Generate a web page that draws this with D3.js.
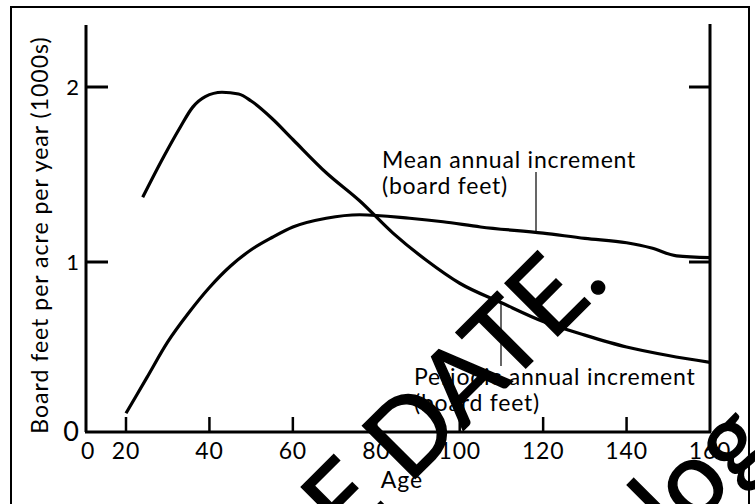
<!DOCTYPE html>
<html>
<head>
<meta charset="utf-8">
<script src="https://cdn.jsdelivr.net/npm/d3@7"></script>
<style>
  body { margin: 0; background: #fff; }
  svg { display: block; font-family: Lato, "Noto Sans", sans-serif; }
</style>
</head>
<body>
<svg id="chart" width="755" height="504"></svg>
<script>
// stand age (years) and growth (1000s board feet per acre per year)
var maiAges   = [20, 25, 30, 35, 40, 45, 50, 55, 60, 68, 76, 88, 96, 105, 120, 130, 140, 146, 152, 160];
var maiValues = [0.11, 0.32, 0.53, 0.70, 0.85, 0.975, 1.07, 1.14, 1.20, 1.25, 1.27, 1.25, 1.23, 1.20, 1.165, 1.135, 1.11, 1.08, 1.035, 1.025];

var paiAges   = [24, 29, 33, 36, 39, 43, 47, 50, 55, 60, 68, 76, 84, 92, 100, 110, 120, 130, 140, 150, 160];
var paiValues = [1.37, 1.60, 1.77, 1.885, 1.945, 1.97, 1.96, 1.92, 1.82, 1.70, 1.51, 1.35, 1.165, 1.01, 0.875, 0.76, 0.65, 0.57, 0.50, 0.45, 0.41];

var xTicks = [0, 20, 40, 60, 80, 100, 120, 140, 160];
var yTicks = [0, 1, 2];

var labels = {
    yTitle: "Board feet per acre per year (1000s)",
    xTitle: "Age",
    mean: ["Mean annual increment", "(board feet)"],
    periodic: ["Periodic annual increment", "(board feet)"],
    stamp: ["E DATE.", "log."]
};

var svg = d3.select("#chart");

// the age axis is broken between 0 and 20
var x = d3.scaleLinear().domain([0, 20, 160]).range([86, 126, 710]);
var y = d3.scaleLinear().domain([0, 1, 2]).range([432, 262, 87]);

var line = d3.line()
    .x((d) => x(d[0]))
    .y((d) => y(d[1]))
    .curve(d3.curveMonotoneX);

// outer frame
svg.append("rect")
    .attr("x", 11).attr("y", 7)
    .attr("width", 738).attr("height", 520)
    .attr("fill", "none").attr("stroke", "#000").attr("stroke-width", 2);

// axes: left, right, bottom
var axes = svg.append("g").attr("stroke", "#000").attr("stroke-width", 3).attr("fill", "none");
axes.append("line").attr("x1", x(0)).attr("x2", x(0)).attr("y1", 25).attr("y2", y(0));
axes.append("line").attr("x1", x(160)).attr("x2", x(160)).attr("y1", 24).attr("y2", y(0));
axes.append("line").attr("x1", x(0) - 1).attr("x2", x(160) + 1).attr("y1", y(0)).attr("y2", y(0));

// inward ticks
yTicks.filter((d) => d > 0).forEach((d) => {
    axes.append("line").attr("x1", x(0)).attr("x2", x(0) + 22).attr("y1", y(d)).attr("y2", y(d));
    axes.append("line").attr("x1", x(160)).attr("x2", x(160) - 21).attr("y1", y(d)).attr("y2", y(d));
});
xTicks.filter((d) => d > 0 && d < 160).forEach((d) => {
    axes.append("line").attr("x1", x(d)).attr("x2", x(d)).attr("y1", y(0)).attr("y2", y(0) - 15)
        .attr("stroke-width", 2.5);
});

// tick labels
svg.append("g").selectAll("text").data(xTicks).join("text")
    .attr("x", (d) => x(d) + (d === 0 ? 2 : 0))
    .attr("y", 459)
    .attr("text-anchor", "middle")
    .attr("font-size", 23)
    .attr("letter-spacing", 0.8)
    .text((d) => d);

svg.append("g").selectAll("text").data(yTicks).join("text")
    .attr("x", 79)
    .attr("y", (d) => y(d) + (d === 0 ? 9 : 8))
    .attr("text-anchor", "end")
    .attr("font-size", (d) => d === 0 ? 27 : 22)
    .text((d) => d);

// axis titles
svg.append("text")
    .attr("transform", "translate(48," + 235 + ") rotate(-90)")
    .attr("text-anchor", "middle")
    .attr("font-size", 23)
    .attr("letter-spacing", 1)
    .text(labels.yTitle);

svg.append("text")
    .attr("x", 402).attr("y", 488)
    .attr("text-anchor", "middle")
    .attr("font-size", 23)
    .attr("letter-spacing", 1)
    .text(labels.xTitle);

// curves
var curves = svg.append("g").attr("fill", "none").attr("stroke", "#000")
    .attr("stroke-width", 3.2).attr("stroke-linejoin", "round").attr("stroke-linecap", "butt");
curves.append("path").attr("d", line(d3.zip(maiAges, maiValues)));
curves.append("path").attr("d", line(d3.zip(paiAges, paiValues)));

// annotations
var notes = svg.append("g").attr("font-size", 23).attr("letter-spacing", 0.8);
notes.append("line").attr("x1", 536).attr("x2", 536).attr("y1", 172).attr("y2", 232)
    .attr("stroke", "#000").attr("stroke-width", 1.2);
notes.selectAll(".mean").data(labels.mean).join("text")
    .attr("x", 382).attr("y", (d, i) => 168 + i * 26)
    .text((d) => d);

notes.append("line").attr("x1", 501).attr("x2", 501).attr("y1", 302).attr("y2", 366)
    .attr("stroke", "#000").attr("stroke-width", 1.2);
notes.selectAll(".per").data(labels.periodic).join("text")
    .attr("x", 414).attr("y", (d, i) => 385 + i * 26)
    .text((d) => d);

// diagonal stamp over the chart
var stamp = svg.append("g").attr("transform", "rotate(-45)")
    .attr("font-size", 104)
    .attr("stroke", "#000").attr("stroke-width", 1.5);
stamp.append("text").attr("x", -141).attr("y", 632).text(labels.stamp[0]);
stamp.append("text").attr("x", 93).attr("y", 863).text(labels.stamp[1]);
</script>
</body>
</html>
